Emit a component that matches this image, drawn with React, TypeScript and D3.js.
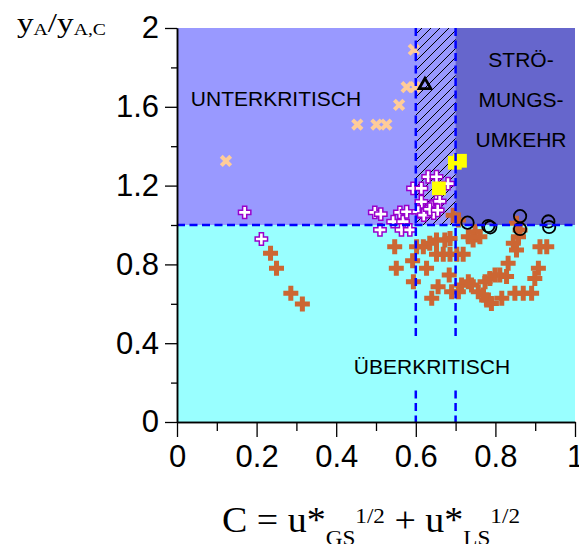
import React, { useEffect, useRef } from "react";
import * as d3 from "d3";

// points, [C, yA/yA,C]
const crossX = [
  [0.123, 1.325], [0.453, 1.51], [0.501, 1.51], [0.526, 1.51],
  [0.558, 1.61], [0.577, 1.7], [0.598, 1.7], [0.595, 1.89],
];
const openCross = [
  [0.17, 1.064], [0.212, 0.929], [0.497, 1.064], [0.512, 1.055], [0.51, 0.975],
  [0.543, 1.017], [0.56, 1.064], [0.568, 1.017], [0.564, 0.975], [0.585, 0.975],
  [0.577, 1.067], [0.593, 1.186], [0.614, 1.186], [0.631, 1.245], [0.652, 1.245],
  [0.681, 1.21], [0.614, 1.118], [0.652, 1.118], [0.606, 1.067], [0.627, 1.067],
  [0.62, 1.05], [0.64, 1.09], [0.66, 1.12], [0.645, 1.06], [0.635, 1.08], [0.655, 1.075],
];
const filledCross = [
  [0.235, 0.856], [0.25, 0.78], [0.286, 0.653], [0.315, 0.599],
  [0.547, 0.89], [0.551, 0.78], [0.592, 0.818], [0.594, 0.712],
  [0.602, 0.89], [0.619, 0.89], [0.635, 0.907], [0.652, 0.924], [0.673, 0.924], [0.686, 0.932],
  [0.627, 0.78], [0.656, 0.687], [0.64, 0.628], [0.684, 0.746], [0.69, 0.661], [0.707, 0.661],
  [0.652, 0.852], [0.669, 0.852], [0.686, 0.852], [0.703, 0.852], [0.719, 0.852],
  [0.715, 0.695], [0.732, 0.712], [0.74, 0.695], [0.757, 0.661], [0.77, 0.645],
  [0.778, 0.619], [0.79, 0.602], [0.816, 0.628],
  [0.774, 0.712], [0.786, 0.729], [0.799, 0.746], [0.811, 0.746], [0.828, 0.738], [0.832, 0.806],
  [0.849, 0.653], [0.87, 0.653], [0.891, 0.653], [0.908, 0.78], [0.899, 0.729],
  [0.912, 0.89], [0.929, 0.89],
  [0.845, 0.907], [0.858, 0.94], [0.853, 0.873], [0.862, 0.975], [0.853, 1.009],
  [0.694, 1.05], [0.707, 1.025], [0.732, 0.94], [0.749, 0.966], [0.744, 0.924], [0.761, 0.94],
];
const squares = [[0.658, 1.186], [0.698, 1.316], [0.711, 1.326]];
const circles = [
  [0.73, 1.012], [0.782, 0.995], [0.787, 0.988], [0.862, 1.045],
  [0.862, 0.98], [0.933, 1.018], [0.935, 0.99],
];
const triangles = [[0.623, 1.71]];

const limitC = [0.6, 0.7];
const limitY = 1;

const xMajor = [0, 0.2, 0.4, 0.6, 0.8, 1];
const xMinor = [0.1, 0.3, 0.5, 0.7, 0.9];
const yMajor = [0, 0.4, 0.8, 1.2, 1.6, 2];
const yMinor = [0.2, 0.6, 1.0, 1.4, 1.8];
const xTickLabels = ["0", "0.2", "0.4", "0.6", "0.8", "1"];
const yTickLabels = ["0", "0.4", "0.8", "1.2", "1.6", "2"];

const SANS = "'Liberation Sans', Arial, sans-serif";
const SERIF = "'Liberation Serif', 'Times New Roman', serif";

export default function App() {
  const ref = useRef<SVGSVGElement>(null);

  useEffect(() => {
    const svg = d3.select(ref.current);
    svg.selectAll("*").remove();

    const x = d3.scaleLinear().domain([0, 1]).range([177, 575]);
    const y = d3.scaleLinear().domain([0, 2]).range([422, 28]);

    // hatch
    svg.append("defs").append("pattern")
      .attr("id", "hatch")
      .attr("patternUnits", "userSpaceOnUse")
      .attr("width", 9).attr("height", 9)
      .append("path")
      .attr("d", "M-2,2 L2,-2 M0,9 L9,0 M7,11 L11,7")
      .attr("stroke", "#000").attr("stroke-width", 1);

    // regions
    const region = (x0, x1, y0, y1, fill) =>
      svg.append("rect")
        .attr("x", x(x0)).attr("y", y(y1))
        .attr("width", x(x1) - x(x0)).attr("height", y(y0) - y(y1))
        .attr("fill", fill);
    region(0, 1, 0, limitY, "#99FFFF");
    region(0, 1, limitY, 2, "#9999FF");
    region(limitC[1], 1, limitY, 2, "#6666CC");
    region(limitC[0], limitC[1], limitY, 2, "url(#hatch)");

    // markers
    const pos = d => `translate(${x(d[0])},${y(d[1])})`;
    const sym = (type, size) => d3.symbol().type(type).size(size)();

    svg.append("g").selectAll("path").data(filledCross).join("path")
      .attr("transform", pos).attr("d", sym(d3.symbolCross, 125))
      .attr("fill", "#CC6633");

    svg.append("g").selectAll("path").data(openCross).join("path")
      .attr("transform", pos).attr("d", sym(d3.symbolCross, 85))
      .attr("fill", "#fff").attr("stroke", "#9900CC").attr("stroke-width", 1.5);

    svg.append("g").selectAll("path").data(crossX).join("path")
      .attr("transform", pos).attr("d", sym(d3.symbolX, 60))
      .attr("fill", "none").attr("stroke", "#FFCC99").attr("stroke-width", 4);

    svg.append("g").selectAll("path").data(squares).join("path")
      .attr("transform", pos).attr("d", sym(d3.symbolSquare, 190))
      .attr("fill", "#FFFF00");

    svg.append("g").selectAll("path").data(circles).join("path")
      .attr("transform", pos).attr("d", sym(d3.symbolCircle, 120))
      .attr("fill", "none").attr("stroke", "#000").attr("stroke-width", 1.8);

    svg.append("g").selectAll("path").data(triangles).join("path")
      .attr("transform", pos).attr("d", sym(d3.symbolTriangle, 60))
      .attr("fill", "none").attr("stroke", "#000").attr("stroke-width", 2.8)
      .attr("stroke-linejoin", "miter");

    // limit lines
    const dash = svg.append("g").attr("stroke", "#0000FF")
      .attr("stroke-width", 2.5).attr("stroke-dasharray", "8,4.5");
    dash.append("line").attr("x1", x(0)).attr("x2", x(1))
      .attr("y1", y(limitY)).attr("y2", y(limitY));
    dash.selectAll("line.v").data(limitC).join("line").attr("class", "v")
      .attr("x1", d => x(d)).attr("x2", d => x(d))
      .attr("y1", y(2)).attr("y2", y(0));

    // region labels
    const label = (tx, ty, txt) =>
      svg.append("text").attr("x", tx).attr("y", ty)
        .attr("text-anchor", "middle").attr("font-family", SANS)
        .attr("font-size", 21).attr("fill", "#000").text(txt);

    svg.append("rect").attr("x", 347).attr("y", 339)
      .attr("width", 170).attr("height", 47).attr("fill", "#99FFFF");
    label(432, 374, "ÜBERKRITISCH");
    label(276, 106, "UNTERKRITISCH");
    label(521, 67, "STRÖ-");
    label(521, 107, "MUNGS-");
    label(521, 147, "UMKEHR");

    // axes
    const styleAxis = g => {
      g.attr("font-family", SANS).attr("font-size", 31);
      g.select(".domain").attr("stroke-width", 1.5);
      g.selectAll(".tick line").attr("stroke-width", 1.3);
      g.selectAll("text").attr("fill", "#000");
    };

    svg.append("g").attr("transform", `translate(${x(0)},0)`)
      .call(d3.axisLeft(y).tickValues(yMinor).tickSize(6).tickSizeOuter(0).tickFormat(() => ""))
      .call(styleAxis);
    svg.append("g").attr("transform", `translate(${x(0)},0)`)
      .call(d3.axisLeft(y).tickValues(yMajor).tickSize(12).tickPadding(6).tickSizeOuter(0)
        .tickFormat((d, i) => yTickLabels[i]))
      .call(styleAxis);

    svg.append("g").attr("transform", `translate(0,${y(0)})`)
      .call(d3.axisBottom(x).tickValues(xMinor).tickSize(9).tickSizeOuter(0).tickFormat(() => ""))
      .call(styleAxis);
    svg.append("g").attr("transform", `translate(0,${y(0)})`)
      .call(d3.axisBottom(x).tickValues(xMajor).tickSize(15).tickPadding(8).tickSizeOuter(0)
        .tickFormat((d, i) => xTickLabels[i]))
      .call(styleAxis);

    // axis titles
    const yt = svg.append("text").attr("x", 17).attr("y", 32)
      .attr("font-family", SERIF).attr("font-size", 27)
      .attr("textLength", 89).attr("lengthAdjust", "spacingAndGlyphs")
      .style("white-space", "pre");
    yt.append("tspan").text("y");
    yt.append("tspan").attr("font-size", 16).attr("dy", 3).text("A");
    yt.append("tspan").attr("dy", -3).text("/y");
    yt.append("tspan").attr("font-size", 16).attr("dy", 3).text("A,C");

    const xt = svg.append("text").attr("x", 222).attr("y", 532)
      .attr("font-family", SERIF).attr("font-size", 36)
      .attr("textLength", 298).attr("lengthAdjust", "spacingAndGlyphs")
      .style("white-space", "pre");
    xt.append("tspan").text("C = u*");
    xt.append("tspan").attr("font-size", 22).attr("dy", 13).text("GS");
    xt.append("tspan").attr("font-size", 22).attr("dy", -22).text("1/2");
    xt.append("tspan").attr("dy", 9).text(" + u*");
    xt.append("tspan").attr("font-size", 22).attr("dy", 13).text("LS");
    xt.append("tspan").attr("font-size", 22).attr("dy", -22).text("1/2");
  }, []);

  return (
    <svg
      ref={ref}
      width={579}
      height={544}
      style={{ position: "absolute", left: 0, top: 0, background: "#fff" }}
    />
  );
}
